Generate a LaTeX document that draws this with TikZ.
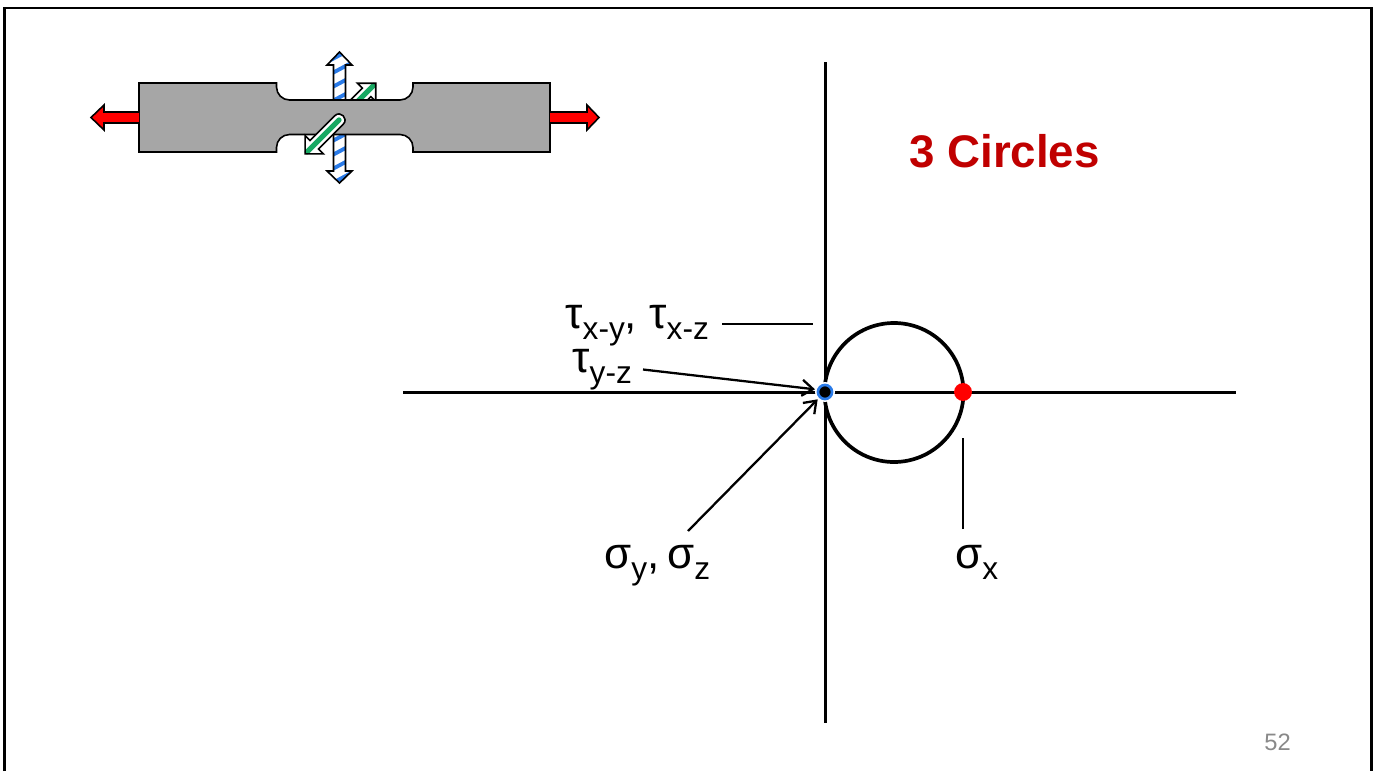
\documentclass[tikz,border=0pt]{standalone}
\usepackage{fontspec}
\setmainfont{Liberation Sans}
\usetikzlibrary{arrows.meta, positioning}
\definecolor{slideRed}{HTML}{C00000}
\definecolor{pullRed}{HTML}{FF0000}
\definecolor{hatchBlue}{HTML}{2A7BE8}
\definecolor{shearGreen}{HTML}{17A862}
\definecolor{barGrey}{HTML}{A6A6A6}
\definecolor{pageGrey}{HTML}{898989}
\tikzset{
  frameline/.style  = {black, line width=1.6pt},
  axisline/.style   = {black, line width=1.7pt},
  mohrline/.style   = {black, line width=2.1pt},
  leader/.style     = {black, line width=1.3pt},
  leadarrow/.style  = {leader, -{Straight Barb[length=2.2mm,width=3.2mm]}},
  outline/.style    = {black, line width=0.9pt, line join=miter},
  lbl/.style        = {inner sep=0pt, anchor=base west, font=\fontsize{25}{25}\selectfont},
  titlelbl/.style   = {inner sep=0pt, anchor=base west, slideRed, font=\bfseries\fontsize{26}{26}\selectfont},
  pagelbl/.style    = {inner sep=0pt, anchor=base west, pageGrey, font=\fontsize{13.5}{13.5}\selectfont},
  reddot/.style     = {circle, fill=pullRed, inner sep=0pt, minimum size=10.2pt},
  halodot/.style    = {circle, fill=white, inner sep=0pt, minimum size=11.4pt},
  bluedot/.style    = {circle, fill=black, draw=hatchBlue, line width=1.5pt, inner sep=0pt, minimum size=8pt},
}
\newcommand{\subs}[1]{\raisebox{-6.5pt}{\fontsize{18}{18}\selectfont #1}}
% shear arrow, round end at the origin, #1 = length
\newcommand{\sheararrow}[1]{
  \fill[white] (0,6) -- (#1-13,6) -- (#1-13,13) -- (#1,0) -- (#1-13,-13) -- (#1-13,-6) -- (0,-6)
    .. controls (-8,-6) and (-8,6) .. (0,6) -- cycle;
  \draw[shearGreen, line width=3pt, line cap=round] (0,0) -- (#1-3,0);
  \draw[outline] (0,6) -- (#1-13,6) -- (#1-13,13) -- (#1,0) -- (#1-13,-13) -- (#1-13,-6) -- (0,-6)
    .. controls (-8,-6) and (-8,6) .. (0,6) -- cycle;
}
\begin{document}
\begin{tikzpicture}[x=0.02cm, y=-0.02cm]
\useasboundingbox (0,0) rectangle (1375,771);
% slide frame
\draw[frameline] (4.5,771) -- (4.5,8) -- (1371.5,8) -- (1371.5,771);
% specimen: arrows behind the bar
\begin{scope}[shift={(339,120)}, rotate=45]
  \sheararrow{52}
\end{scope}
\def\hatchup{(333.5,110) -- (333.5,65) -- (327,65) -- (339.5,52) -- (352,65) -- (345.5,65) -- (345.5,110) -- cycle}
\def\hatchdown{(333.5,125) -- (333.5,171) -- (327,171) -- (339.5,183) -- (352,171) -- (345.5,171) -- (345.5,125) -- cycle}
\fill[white] \hatchup;
\fill[white] \hatchdown;
\begin{scope}
  \clip \hatchup;
  \foreach \ypos in {55,69,83,97}
    \draw[hatchBlue, line width=2.2pt] (325,\ypos+8) -- (355,\ypos-8);
\end{scope}
\begin{scope}
  \clip \hatchdown;
  \foreach \ypos in {137,151,165,179}
    \draw[hatchBlue, line width=2.2pt] (325,\ypos+8) -- (355,\ypos-8);
\end{scope}
\draw[outline] \hatchup;
\draw[outline] \hatchdown;
% the bar
\draw[outline, fill=barGrey] (139,83) -- (276.5,83) [rounded corners=0.26cm] -- (276.5,100) -- (413,100)
  [sharp corners] -- (413,83) -- (550,83) -- (550,152) -- (413,152) [rounded corners=0.26cm] -- (413,134.5)
  -- (276.5,134.5) [sharp corners] -- (276.5,152) -- (139,152) -- cycle;
% pull arrows
\draw[outline, fill=pullRed] (139,112) -- (104,112) -- (104,105) -- (91,117.5) -- (104,130) -- (104,123) -- (139,123);
\draw[outline, fill=pullRed] (550,112) -- (587,112) -- (587,105) -- (599,117.5) -- (587,130) -- (587,123) -- (550,123);
\begin{scope}[shift={(339,120)}, rotate=225]
  \sheararrow{48}
\end{scope}
% Mohr plane
\coordinate (vtop) at (825,62);
\coordinate (vbot) at (825,723);
\coordinate (hleft) at (403,392);
\coordinate (hright) at (1236,392);
\draw[axisline] (vtop) -- (vbot);
\draw[axisline] (hleft) -- (hright);
\coordinate (circlecentre) at (894,392.5);
\draw[mohrline] (circlecentre) circle (69.5);
\node[reddot] (dotx) at (963,392) {};
\node[halodot] (doto) at (825,392) {};
\node[bluedot] (dotoin) at (825,392) {};
% labels
\node[titlelbl] (title) at (909,167) {3 Circles};
\node[lbl] (tauxy) at (565,328) {τ\subs{x-y},};
\node[lbl] (tauxz) at (649,328) {τ\subs{x-z}};
\node[lbl] (tauyz) at (572,372) {τ\subs{y-z}};
\node[lbl] (sigy) at (604,568) {σ\subs{y},};
\node[lbl] (sigz) at (667,568) {σ\subs{z}};
\node[lbl] (sigx) at (955,568) {σ\subs{x}};
\node[pagelbl] (page) at (1264,750) {52};
% leaders
\coordinate (tauxzend) at (722,324);
\coordinate (tauxzstop) at (813,324);
\coordinate (tauyzend) at (643,369.5);
\coordinate (sigyzend) at (688,531);
\coordinate (sigxend) at (963,529);
\coordinate (sigxstop) at (963,438);
\draw[leader] (tauxzend) -- (tauxzstop);
\draw[leadarrow] (tauyzend) -- (doto.165);
\draw[leadarrow] (sigyzend) -- (doto.225);
\draw[leader] (sigxend) -- (sigxstop);
\end{tikzpicture}
\end{document}
